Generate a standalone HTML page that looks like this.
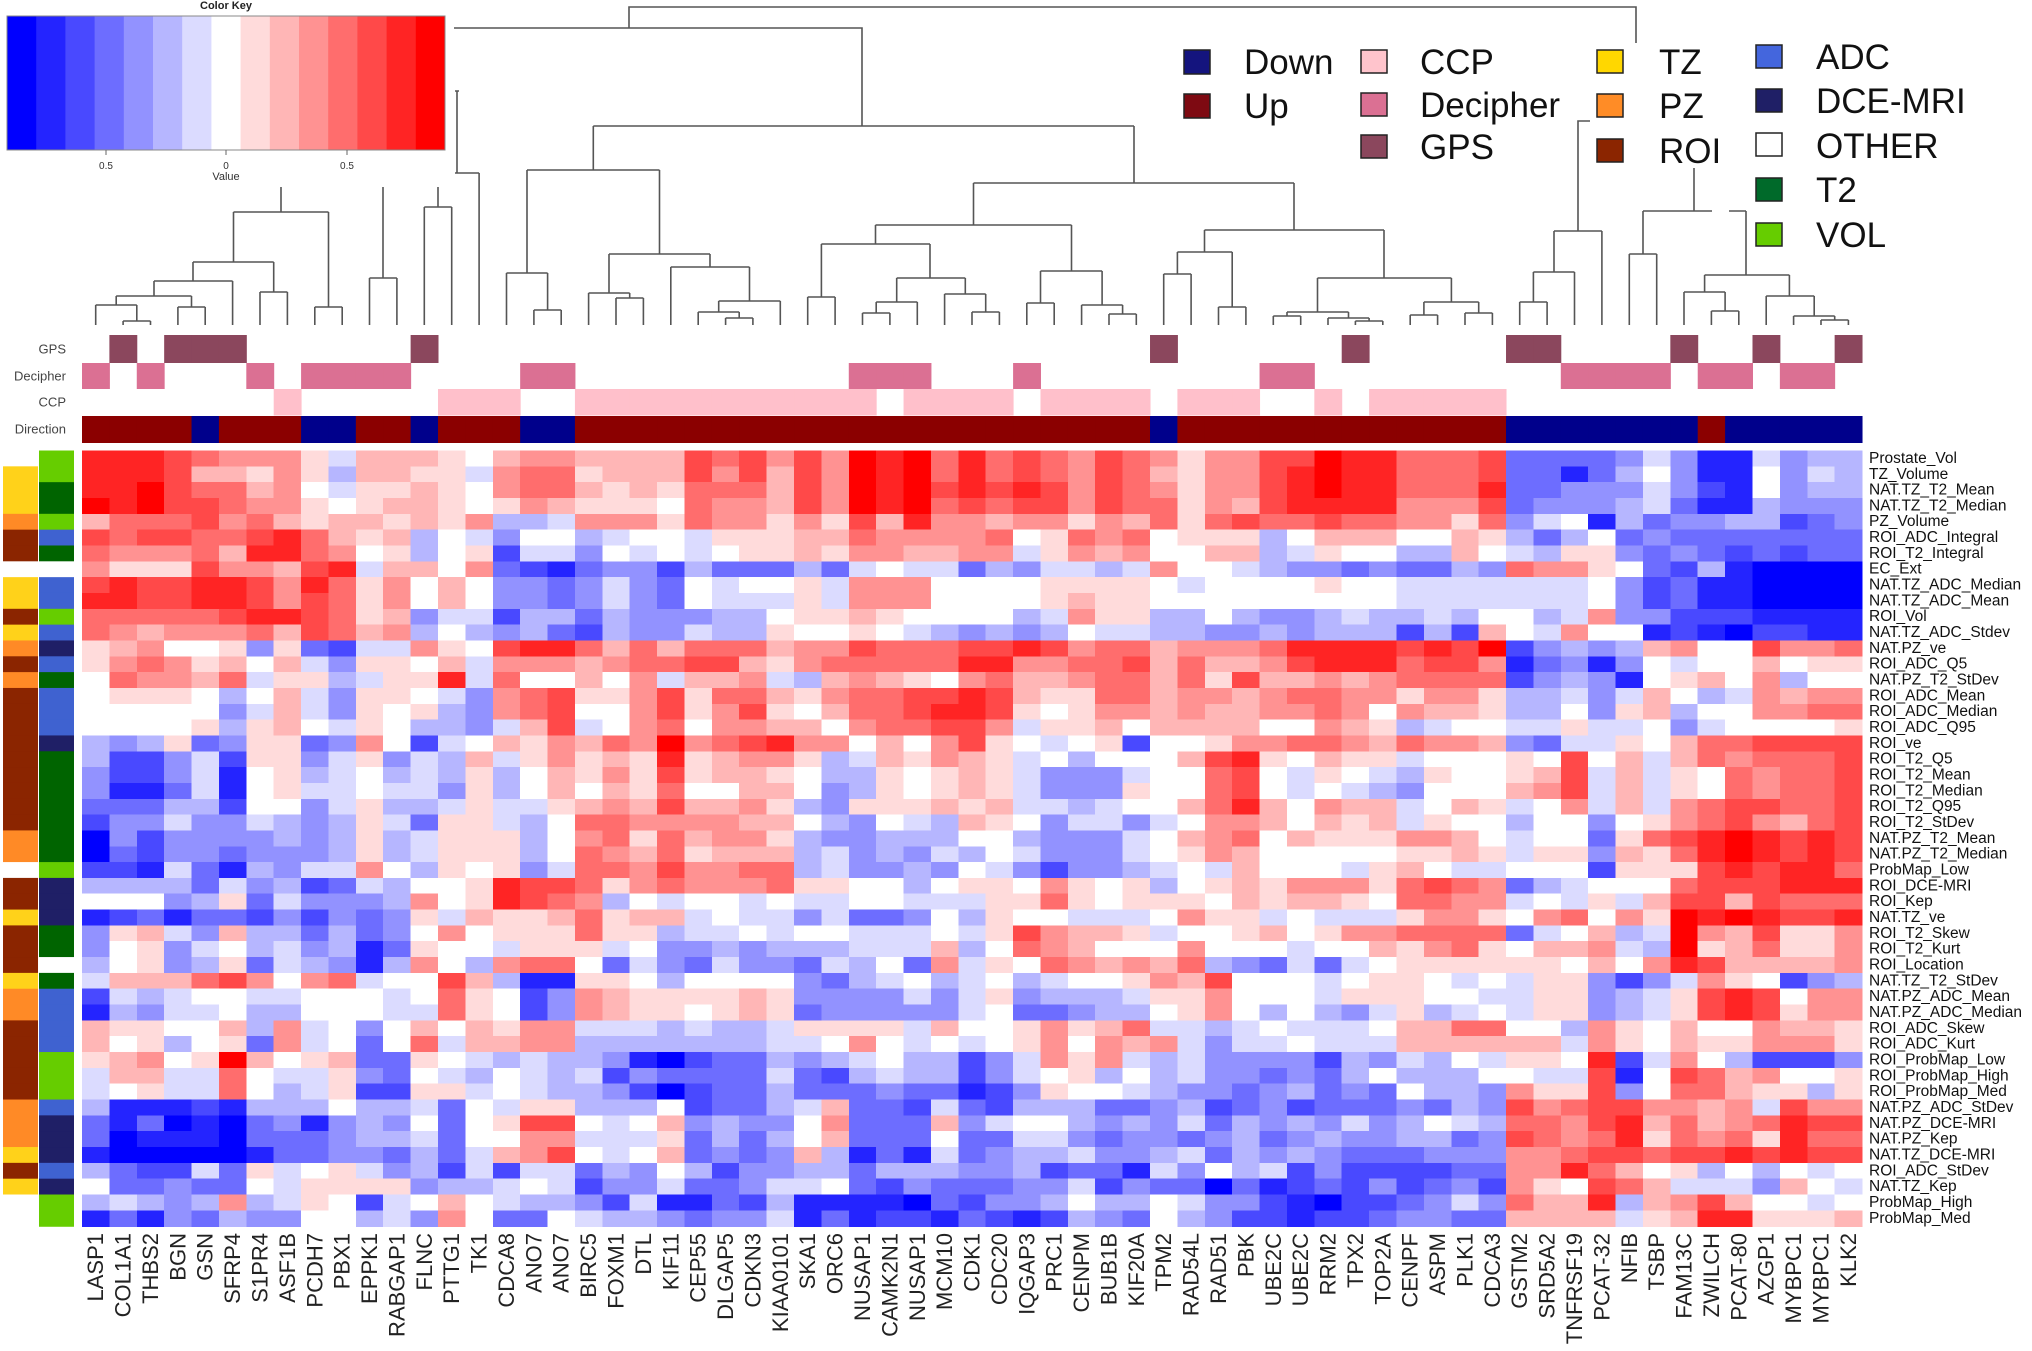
<!DOCTYPE html>
<html><head><meta charset="utf-8">
<style>
html,body{margin:0;padding:0;background:#fff;}
svg{display:block;}
text{font-family:"Liberation Sans",Arial,sans-serif;}
</style></head><body>
<svg id="s" width="2032" height="1351" viewBox="0 0 2032 1351" xmlns="http://www.w3.org/2000/svg">
<rect width="2032" height="1351" fill="#fff"/>
<g id="keybins"></g>
<rect x="7" y="16" width="438" height="134" fill="none" stroke="#888" stroke-width="1"/>
<text x="226" y="9" font-size="11" font-weight="bold" text-anchor="middle" fill="#222">Color Key</text>
<path d="M106,150V155M226,150V155M347,150V155" stroke="#666" stroke-width="1"/>
<g font-size="10" fill="#333" text-anchor="middle">
<text x="106" y="169">0.5</text><text x="226" y="169">0</text><text x="347" y="169">0.5</text>
<text x="226" y="180" font-size="11">Value</text>
</g>

<path fill="none" stroke="#555" stroke-width="1.6" d="
M629,28V7H1636V43
M454,28H862V126
M593.3,126H1134
M593.3,126V170 M527,170H659.5
M527,170V273 M506.5,273H547.6 M506.5,273V325 M547.6,273V310 M533.9,310H561.2 M533.9,310V325 M561.2,310V325
M659.5,170V254 M609,254H710
M609,254V293 M588.6,293H629.7 M588.6,293V325 M629.7,293V298 M616,298H643.4 M616,298V325 M643.4,298V325
M710,254V267 M670.8,267H749.5 M670.8,267V325 M749.5,267V301 M718.7,301H780.3 M780.3,301V325 M718.7,301V312 M698.2,312H739.2 M698.2,312V325 M739.2,312V318 M725.6,318H752.9 M725.6,318V325 M752.9,318V325
M1134,126V183 M973.5,183H1294
M973.5,183V225 M875.5,225H1071.5
M875.5,225V244 M821.4,244H930
M821.4,244V297 M807.7,297H835.1 M807.7,297V325 M835.1,297V325
M930,244V278 M896.7,278H965.3
M896.7,278V302 M876.2,302H917.3 M917.3,302V325 M876.2,302V313 M862.5,313H889.9 M862.5,313V325 M889.9,313V325
M965.3,278V294 M944.6,294H985.7 M944.6,294V325 M985.7,294V312 M972,312H999.4 M972,312V325 M999.4,312V325
M1071.5,225V271 M1040.5,271H1102.1
M1040.5,271V303 M1026.8,303H1054.2 M1026.8,303V325 M1054.2,303V325
M1102.1,271V305 M1081.6,305H1122.6 M1081.6,305V325 M1122.6,305V314 M1109,314H1136.3 M1109,314V325 M1136.3,314V325
M1294,183V230 M1204.5,230H1384
M1204.5,230V252 M1177.4,252H1232.2
M1177.4,252V274 M1163.7,274H1191.1 M1163.7,274V325 M1191.1,274V325
M1232.2,252V307 M1218.5,307H1245.9 M1218.5,307V325 M1245.9,307V325
M1384,230V278 M1317.5,278H1451.4
M1317.5,278V312 M1287,312H1348.5
M1287,312V316 M1273.3,316H1300.7 M1273.3,316V325 M1300.7,316V325
M1348.5,312V318 M1328,318H1369.1 M1328,318V325 M1369.1,318V321 M1355.4,321H1382.8 M1355.4,321V325 M1382.8,321V325
M1451.4,278V302 M1423.9,302H1478.7
M1423.9,302V315 M1410.2,315H1437.6 M1410.2,315V325 M1437.6,315V325
M1478.7,302V313 M1465,313H1492.4 M1465,313V325 M1492.4,313V325
M1590,121H1578V231 M1554,231H1601.9
M1554,231V272 M1533.4,272H1574.5 M1574.5,272V325 M1533.4,272V302 M1519.7,302H1547.1 M1519.7,302V325 M1547.1,302V325
M1601.9,231V325
M1694,168V211 M1643,211H1712 M1729,211H1746
M1643,211V254 M1629.3,254H1656.7 M1629.3,254V325 M1656.7,254V325
M1746,211V275 M1704.6,275H1789.4
M1704.6,275V292 M1684,292H1725.1 M1684,292V325 M1725.1,292V311 M1711.4,311H1738.8 M1711.4,311V325 M1738.8,311V325
M1789.4,275V296 M1766.2,296H1814.2 M1766.2,296V325 M1814.2,296V316 M1793.6,316H1834.7 M1793.6,316V325 M1834.7,316V320 M1821,320H1848.4 M1821,320V325 M1848.4,320V325
M281,187V212 M233.5,212H328.5
M328.5,212V307 M314.8,307H342.2 M314.8,307V325 M342.2,307V325
M233.5,212V262 M193,262H273.7
M273.7,262V292 M260,292H287.4 M260,292V325 M287.4,292V325
M193,262V281 M154,281H232.6 M232.6,281V325
M154,281V296 M116.2,296H191.5
M116.2,296V305 M95.7,305H136.8 M95.7,305V325 M136.8,305V321 M123.1,321H150.5 M123.1,321V325 M150.5,321V325
M191.5,296V307 M177.9,307H205.2 M177.9,307V325 M205.2,307V325
M383,187V278 M369.5,278H396.9 M369.5,278V325 M396.9,278V325
M438,187V207 M424.3,207H451.7 M424.3,207V325 M451.7,207V325
M455,91H459 M457,91V173 M455,173H479.1 M479.1,173V325
"/>

<!-- legend -->
<g stroke="#222" stroke-width="1.5">
<rect x="1184" y="50" width="26" height="24" fill="#14147e"/>
<rect x="1184" y="94" width="26" height="24" fill="#7e0a12"/>
<rect x="1361" y="50" width="26" height="23" fill="#ffc4cc"/>
<rect x="1361" y="93" width="26" height="23" fill="#db7093"/>
<rect x="1361" y="135" width="26" height="23" fill="#8b475d"/>
<rect x="1597" y="50" width="26" height="23" fill="#ffd700"/>
<rect x="1597" y="94" width="26" height="23" fill="#ff8c26"/>
<rect x="1597" y="139" width="26" height="23" fill="#8b2500"/>
<rect x="1756" y="45" width="26" height="23" fill="#4466dd"/>
<rect x="1756" y="89" width="26" height="23" fill="#1f1f66"/>
<rect x="1756" y="133" width="26" height="23" fill="#fff"/>
<rect x="1756" y="178" width="26" height="23" fill="#006a2a"/>
<rect x="1756" y="223" width="26" height="23" fill="#66cd00"/>
</g>
<g font-size="35" fill="#111">
<text x="1244" y="74">Down</text>
<text x="1244" y="118">Up</text>
<text x="1420" y="74">CCP</text>
<text x="1420" y="117">Decipher</text>
<text x="1420" y="159">GPS</text>
<text x="1659" y="74">TZ</text>
<text x="1659" y="118">PZ</text>
<text x="1659" y="163">ROI</text>
<text x="1816" y="69">ADC</text>
<text x="1816" y="113">DCE-MRI</text>
<text x="1816" y="158">OTHER</text>
<text x="1816" y="202">T2</text>
<text x="1816" y="247">VOL</text>
</g>

<!-- annotation labels -->
<g font-size="13" fill="#444" text-anchor="end" dominant-baseline="central">
<text x="66" y="349">GPS</text>
<text x="66" y="376">Decipher</text>
<text x="66" y="402">CCP</text>
<text x="66" y="429">Direction</text>
</g>

<g id="annot"></g>
<g id="side"></g>
<g id="heat" shape-rendering="crispEdges"></g>

<!-- row labels -->
<g font-size="15.5" fill="#111" dominant-baseline="central">
<text x="1869" y="458.4">Prostate_Vol</text>
<text x="1869" y="474.3">TZ_Volume</text>
<text x="1869" y="490.1">NAT.TZ_T2_Mean</text>
<text x="1869" y="505.9">NAT.TZ_T2_Median</text>
<text x="1869" y="521.7">PZ_Volume</text>
<text x="1869" y="537.6">ROI_ADC_Integral</text>
<text x="1869" y="553.4">ROI_T2_Integral</text>
<text x="1869" y="569.2">EC_Ext</text>
<text x="1869" y="585.1">NAT.TZ_ADC_Median</text>
<text x="1869" y="600.9">NAT.TZ_ADC_Mean</text>
<text x="1869" y="616.7">ROI_Vol</text>
<text x="1869" y="632.6">NAT.TZ_ADC_Stdev</text>
<text x="1869" y="648.4">NAT.PZ_ve</text>
<text x="1869" y="664.2">ROI_ADC_Q5</text>
<text x="1869" y="680.0">NAT.PZ_T2_StDev</text>
<text x="1869" y="695.9">ROI_ADC_Mean</text>
<text x="1869" y="711.7">ROI_ADC_Median</text>
<text x="1869" y="727.5">ROI_ADC_Q95</text>
<text x="1869" y="743.4">ROI_ve</text>
<text x="1869" y="759.2">ROI_T2_Q5</text>
<text x="1869" y="775.0">ROI_T2_Mean</text>
<text x="1869" y="790.9">ROI_T2_Median</text>
<text x="1869" y="806.7">ROI_T2_Q95</text>
<text x="1869" y="822.5">ROI_T2_StDev</text>
<text x="1869" y="838.3">NAT.PZ_T2_Mean</text>
<text x="1869" y="854.2">NAT.PZ_T2_Median</text>
<text x="1869" y="870.0">ProbMap_Low</text>
<text x="1869" y="885.8">ROI_DCE-MRI</text>
<text x="1869" y="901.7">ROI_Kep</text>
<text x="1869" y="917.5">NAT.TZ_ve</text>
<text x="1869" y="933.3">ROI_T2_Skew</text>
<text x="1869" y="949.2">ROI_T2_Kurt</text>
<text x="1869" y="965.0">ROI_Location</text>
<text x="1869" y="980.8">NAT.TZ_T2_StDev</text>
<text x="1869" y="996.6">NAT.PZ_ADC_Mean</text>
<text x="1869" y="1012.5">NAT.PZ_ADC_Median</text>
<text x="1869" y="1028.3">ROI_ADC_Skew</text>
<text x="1869" y="1044.1">ROI_ADC_Kurt</text>
<text x="1869" y="1060.0">ROI_ProbMap_Low</text>
<text x="1869" y="1075.8">ROI_ProbMap_High</text>
<text x="1869" y="1091.6">ROI_ProbMap_Med</text>
<text x="1869" y="1107.5">NAT.PZ_ADC_StDev</text>
<text x="1869" y="1123.3">NAT.PZ_DCE-MRI</text>
<text x="1869" y="1139.1">NAT.PZ_Kep</text>
<text x="1869" y="1154.9">NAT.TZ_DCE-MRI</text>
<text x="1869" y="1170.8">ROI_ADC_StDev</text>
<text x="1869" y="1186.6">NAT.TZ_Kep</text>
<text x="1869" y="1202.4">ProbMap_High</text>
<text x="1869" y="1218.3">ProbMap_Med</text>
</g>

<!-- column labels -->
<g transform="translate(0,1233) rotate(-90)" font-size="22" fill="#222" text-anchor="end" dominant-baseline="central">
<text x="0" y="95.7">LASP1</text>
<text x="0" y="123.1">COL1A1</text>
<text x="0" y="150.5">THBS2</text>
<text x="0" y="177.9">BGN</text>
<text x="0" y="205.2">GSN</text>
<text x="0" y="232.6">SFRP4</text>
<text x="0" y="260.0">S1PR4</text>
<text x="0" y="287.4">ASF1B</text>
<text x="0" y="314.8">PCDH7</text>
<text x="0" y="342.2">PBX1</text>
<text x="0" y="369.5">EPPK1</text>
<text x="0" y="396.9">RABGAP1</text>
<text x="0" y="424.3">FLNC</text>
<text x="0" y="451.7">PTTG1</text>
<text x="0" y="479.1">TK1</text>
<text x="0" y="506.5">CDCA8</text>
<text x="0" y="533.9">ANO7</text>
<text x="0" y="561.2">ANO7</text>
<text x="0" y="588.6">BIRC5</text>
<text x="0" y="616.0">FOXM1</text>
<text x="0" y="643.4">DTL</text>
<text x="0" y="670.8">KIF11</text>
<text x="0" y="698.2">CEP55</text>
<text x="0" y="725.6">DLGAP5</text>
<text x="0" y="752.9">CDKN3</text>
<text x="0" y="780.3">KIAA0101</text>
<text x="0" y="807.7">SKA1</text>
<text x="0" y="835.1">ORC6</text>
<text x="0" y="862.5">NUSAP1</text>
<text x="0" y="889.9">CAMK2N1</text>
<text x="0" y="917.3">NUSAP1</text>
<text x="0" y="944.6">MCM10</text>
<text x="0" y="972.0">CDK1</text>
<text x="0" y="999.4">CDC20</text>
<text x="0" y="1026.8">IQGAP3</text>
<text x="0" y="1054.2">PRC1</text>
<text x="0" y="1081.6">CENPM</text>
<text x="0" y="1109.0">BUB1B</text>
<text x="0" y="1136.3">KIF20A</text>
<text x="0" y="1163.7">TPM2</text>
<text x="0" y="1191.1">RAD54L</text>
<text x="0" y="1218.5">RAD51</text>
<text x="0" y="1245.9">PBK</text>
<text x="0" y="1273.3">UBE2C</text>
<text x="0" y="1300.7">UBE2C</text>
<text x="0" y="1328.0">RRM2</text>
<text x="0" y="1355.4">TPX2</text>
<text x="0" y="1382.8">TOP2A</text>
<text x="0" y="1410.2">CENPF</text>
<text x="0" y="1437.6">ASPM</text>
<text x="0" y="1465.0">PLK1</text>
<text x="0" y="1492.4">CDCA3</text>
<text x="0" y="1519.7">GSTM2</text>
<text x="0" y="1547.1">SRD5A2</text>
<text x="0" y="1574.5">TNFRSF19</text>
<text x="0" y="1601.9">PCAT-32</text>
<text x="0" y="1629.3">NFIB</text>
<text x="0" y="1656.7">TSBP</text>
<text x="0" y="1684.0">FAM13C</text>
<text x="0" y="1711.4">ZWILCH</text>
<text x="0" y="1738.8">PCAT-80</text>
<text x="0" y="1766.2">AZGP1</text>
<text x="0" y="1793.6">MYBPC1</text>
<text x="0" y="1821.0">MYBPC1</text>
<text x="0" y="1848.4">KLK2</text>
</g>
</svg>
<script>
(function(){
var NS="http://www.w3.org/2000/svg";
var PAL="ABCDEFG0gfedcba";
function col(ch){var i=PAL.indexOf(ch);if(i<0)i=7;var v;
 if(i<7){v=Math.round(255*i/7);return "rgb("+v+","+v+",255)";}
 if(i==7)return "#ffffff";
 v=Math.round(255*(14-i)/7);return "rgb(255,"+v+","+v+")";}
function R(p,x,y,w,h,f){var r=document.createElementNS(NS,"rect");r.setAttribute("x",x);r.setAttribute("y",y);r.setAttribute("width",w);r.setAttribute("height",h);r.setAttribute("fill",f);p.appendChild(r);}
// key bins
var kb=document.getElementById("keybins");
for(var i=0;i<15;i++){R(kb,(7+i*29.2).toFixed(2),16,29.6,134,col(PAL[i]));}
var X0=82,CW=27.385,Y0=450.5,RH=15.83;
var rows=[
"bbbcdeeegGfffg0feeffffcdceceabadb"+"dcdecdegeeccabbdddcDDDDEGEBBGEFF",
"bbbcffgegFffggGeddgfffcecfceabadb"+"dcdecdfgeecbabbdddcDDBDF0EBB0EGF",
"bbacddfe0Gggfg0eddfgfgdddfceabacb"+"cbcecdegeecbabbdddbDDEEEGECB0EFF",
"abaccdeeg0gffg0gefggg0deefceabadc"+"dccecddgefcbbbbeeecDEEEFGDBBFEEE",
"fdddcedfgffgfgeFFGeeegdeegegcfbee"+"feegefdgdcddcddeegdEG0BFDEEFFCDE",
"cdccddcbdfgfF0GE00FG00Ggggffdeeee"+"d0gded0gggF0fff00fgFDF0DEDDDDDDD",
"deeedfbbde0gF0gCGGE0G0G0ggfgeeffe"+"eGgefe00ffFGg00FFf0GFggEDEDCDCDD",
"egggceefcbGff0eDCBDEECFDDDFDG0GGD"+"FEGGFGe00GFEEDEDDFEdeeg0DCFBAAAA",
"cbccbbcebdge0f0EEDEGED0G00gGeee00"+"00gggg0G0000g00GGGGGGG0ECDBBAAAA",
"bbccbbcecdge0f0EEDEGED0GGGgGeee00"+"00gfgg000000000GGGGGGG0ECDBBAAAA",
"dddddcbbcdgfEGGCFFDFEEEFF0ggfg000"+"0FGeggFF0FEEFGFFGF00FGeEECCCBBBB",
"defeeedfcdfeF0FEFDCFEEGFFg00g0GFE"+"FEF0GGFFEEFEFFFCFCf0Ge00BCBACCBB",
"gfe00gEgDCGGeg0cbbdfdfdddfeecdddc"+"cbceddfeeedbbbbcbcaCEFEFfe00ceed",
"gedegf0fGEgg0fGeeefeddccfgedddddb"+"beeddcfdffecbbbdcceBDEBE0G00f0gg",
"0deefdGggFGggbGd00f0eGffeGFfefg0e"+"dffeddfdgcffefeddddCEFEB0gf0eF00",
"0ggg0F0fGEgg0GEedcggecgddfgeddccb"+"cfggddfeefeddeegeegFFGEGf0FGefee",
"00000EGfGEg0gFEedc00ecgecg0fddcbb"+"cg0geefeffeede0effgFF0EgfF00eedd",
"0000gFgf0Gg0FFEGfcG0ed0eeff0eddcc"+"eGggf0ffff00efgFG00GGgGG0EG0000g",
"FEFgDEggDEe0CG0fgefdeaedcbee0f0ec"+"g0G0gC00geeddefdeefEDGGg0fddcccc",
"FCCEGCggEGgEGFfGgegfgbgfeegFGfgef"+"gG0F000fcbg0fggG000g0c0fGfdedddc",
"ECCEGB0gFG0FGFgF0fgegcgffg0FFg0gf"+"gGEEEG00dc0Gg0GFg00gfcGfGg0deddc",
"EBBDGB0gGG0GGEgF0f0fgd00ff0EFg0gf"+"gGEEEg00dc0G0GFE000fecGfGg0deddc",
"DDDFFC00EGgFFGgGGgfefcffegFEgggfg"+"fGGFG00fdbf0effG0fgG0eGfGedccddc",
"CEEGEEGFEFgGDggGF0ddeeeeff0FE0GFf"+"g0EGGEG0eef0fgfGg00F00E0gedcefdc",
"AECEEEEFEFgFGgggF0edgdfeegFEEFFF0"+"0FEEEG0fed0fgggeef0G00Dgdcbabcbc",
"ADCEEDEEEFgFGgggF0defdgfffFGEFEGF"+"0GEEEG0gef00000ggfgGggEfgdbabcbc",
"CCBGDBFEGGe0Fg0gEGddeceeddFGEEFE0"+"GECEEFG0Gf000Ggf0GG000Cgggcbcbbd",
"FFFFDGEFCDGF00gbccdgedeeedgg00F0g"+"g0eg0gF0gfgeeegdcdeDFG000dcccbbb",
"000EFgDGEEEFe0gbcdeF0G00G0GG00GGG"+"ggdg0ggg0fgffg0ddeeG0GgGfccfcddd",
"BCDBDDCECEDEgGfggfdgffG0GGEGDDE0F"+"g00GGG0eggG0GGGgeeg0ed0egababccb",
"EgfGEfFFDFDE0e0gggdggFGG0G00GGG0G"+"gceffgG00gf0geeddddDG0fFGaefcgge",
"E0gEG0FGEFBDg00GgggG0EEFEFFFGGGfF"+"0def000e000G00fgedg0ffeGFagfdgge",
"F0gEFgDGFEBFe0Fedd0DGEDGEEDGF0DeG"+"g0defefdFEDGDG0gggggg0f0ebcffffe",
"Gfffdce0edG00cfFBBgg0F0000EDFG0FG"+"0FG00gefc000G0gg0G0GggECEGeg0CEF",
"CGFG00GG000G0dg0CEefggggfgEEEEGEG"+"gEFFFGgge000Gggg00GGggEFGgcbc0ee",
"BFEGG0FF000GGdg0CEefgg0gfgDEEEEEG"+"0DDEFF0ge0F0FEGgFG0GggEFGgcbcgee",
"fgg00fFeG0E0f0fgeeGGGFGFFGggggGf0"+"0gegfdGGFG0GGG0ffdd00Feg0f00effg",
"f0gF0gDeG0D0dGffeeFFFFFFFGG0e0G0G"+"0ge0efeGEGG0GGGffffffGeg0fggeeeg",
"gfe0gaf0gfDDg0GFGFFEBACDDFEFG0FFC"+"EGegeGFGEEEECFEGF0Ggg0bCGe0FCCCE",
"GffGGd0GGgED0GF0GFGCEDDDDGDCFGFFC"+"EG0gF0FGEEDEDF0FFF00GGcB0cdfe00g",
"G0gGGd0FGgCCggG0GFFECACDDFDDDEDDB"+"CEg00GFEEDEFDED0FFEeggcE0ddfggFg",
"FBBBCBFFF0FFGD0GggFFF0CDDFGfDDCGD"+"CFFFDDEFCDECDDDEDFEcedcceefeGcee",
"DBDABADEBEFE0D0gcc0G0fEFEE0eDDDfE"+"G00FEFEGDFEFEGEF0GFddecbfdfedbcc",
"DABBBADDDEFFGD00eeGGGgDFDF0fDDD0D"+"DGGEDEEDEFDEFEEFFDEcdedbgdedgbdd",
"BAAAAABDDEEDFDGfec0G0fDEDEfFBDBGD"+"EFFGEEFGDFEFEDDDEEEeedccdccbcbcc",
"FDCCGDgG0gGEFCGCGGDFE0FCEEFFDFFFE"+"EFCDDBGE0FGCECCCCDDeebdf0gF0F0G0",
"0DDEDD0GggggEFFG0GCEEGDDEGG0DCEDD"+"DEEGCEDDADBCDCECDECeg0cdfGGGEf0G",
"FGFEFeFGg0CG0f0GFFECGBBDCFBBBBADC"+"EEF0FF0GEECBACCDEGEdffbFfecf00G0",
"BDBEDFEE00FGEe0DD0GFFEDEEGBDBCCBD"+"CBCFED0FECCBCCDEEDDffffGgfbbgggf"
];
var hm=document.getElementById("heat");
for(var r=0;r<rows.length;r++){
  var s=rows[r];
  for(var k=0;k<65;k++){
    var ch=s.charAt(k)||"0";
    R(hm,(X0+k*CW).toFixed(2),(Y0+r*RH).toFixed(2),(CW+0.6).toFixed(2),(RH+0.6).toFixed(2),col(ch));
  }
}
// side bars
var LC={W:"#ffffff",T:"#ffd21a",P:"#ff8a26",R:"#8b2500"};
var RC={V:"#66cd00",A:"#3f62d0",D:"#1f1f66","2":"#006400",O:"#ffffff"};
var left="WTTTPRRWTTRTPRPRRRRRRRRRPPWRRTRRRTPPRRRRRPPPTRTWW";
var right="VV22VA2OAAVADA2AAAD2222222VDDD22O2AAAAVVVADDDADVV";
// ensure right has 49 chars
right="VV22VA2OAA"+"VADA2AAAD2"+"222222VDDD"+"22O2AAAAVV"+"VADDDADVV";
var sd=document.getElementById("side");
for(var r=0;r<49;r++){
  R(sd,3,(Y0+r*RH).toFixed(2),35,(RH+0.6).toFixed(2),LC[left.charAt(r)]||"#fff");
  R(sd,39,(Y0+r*RH).toFixed(2),35,(RH+0.6).toFixed(2),RC[right.charAt(r)]||"#fff");
}
// annotation rows
var an=document.getElementById("annot");
var GPS=[1,3,4,5,12,39,46,52,53,58,61,64];
var DEC=[0,2,6,8,9,10,11,16,17,28,29,30,34,43,44,54,55,56,57,59,60,62,63];
var CCP=[7,13,14,15,18,19,20,21,22,23,24,25,26,27,28,30,31,32,33,35,36,37,38,40,41,42,45,47,48,49,50,51];
GPS.forEach(function(k){R(an,(X0+k*CW).toFixed(2),335,(CW+0.5).toFixed(2),28,"#8b475d");});
DEC.forEach(function(k){R(an,(X0+k*CW).toFixed(2),363,(CW+0.5).toFixed(2),26,"#db7093");});
CCP.forEach(function(k){R(an,(X0+k*CW).toFixed(2),389,(CW+0.5).toFixed(2),26.5,"#ffc0cb");});
var dir="UUUUDUUUDDUUDUUUDDUUUUUUUUUUUUUUUUUUUUUDUUUUUUUUUUUUDDDDDDDUDDDDD";
for(var k=0;k<65;k++){R(an,(X0+k*CW).toFixed(2),416,(CW+0.5).toFixed(2),27,dir.charAt(k)=="D"?"#00008b":"#8b0000");}
})();
</script>
</body></html>
